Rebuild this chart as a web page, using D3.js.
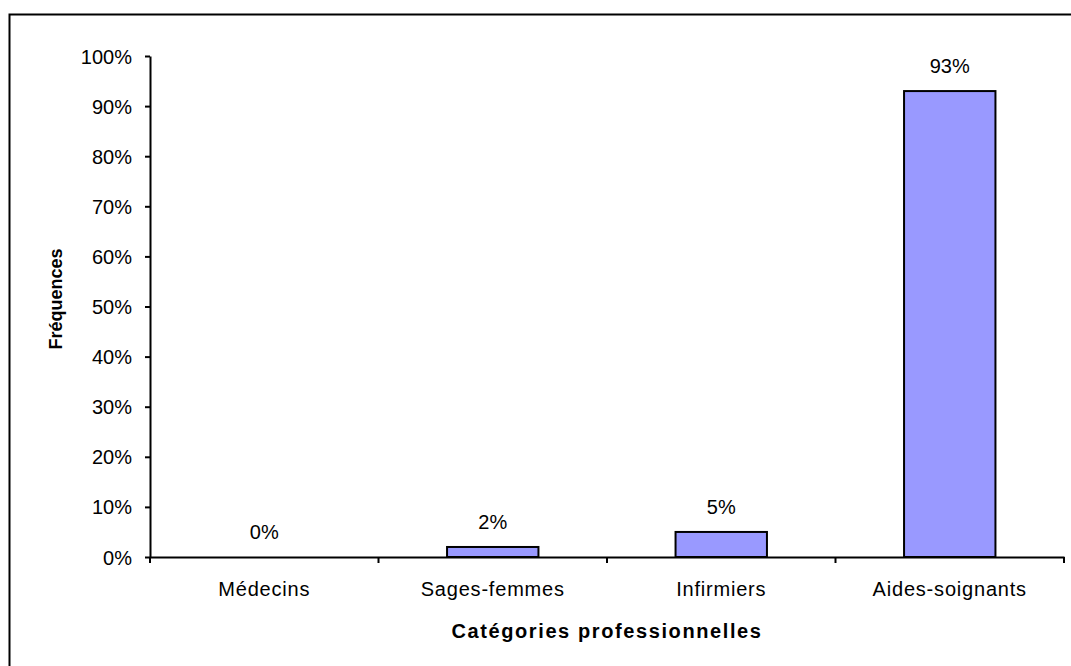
<!DOCTYPE html>
<html><head><meta charset="utf-8">
<script src="https://cdn.jsdelivr.net/npm/d3@7"></script>
<style>body{margin:0;background:#fff}svg{display:block}text{font-family:"Liberation Sans",Arial,sans-serif}</style>
</head><body>
<svg id="c" width="1071" height="666"></svg>
<script>
const categories = ["Médecins", "Sages-femmes", "Infirmiers", "Aides-soignants"];
const values = [0, 2, 5, 93];
const valueLabels = ["0%", "2%", "5%", "93%"];
const yTicks = [0, 10, 20, 30, 40, 50, 60, 70, 80, 90, 100];

const svg = d3.select("#c");
svg.append("rect").attr("x", 9.5).attr("y", 14.5).attr("width", 1080).attr("height", 700)
  .attr("fill", "none").attr("stroke", "#000").attr("stroke-width", 2);

const mLeft = 150, mRight = 1064, mTop = 56, mBottom = 557;
const FF = "Liberation Sans, Arial, sans-serif";
const x = d3.scaleBand().domain(categories).range([mLeft, mRight]).paddingInner(0.6).paddingOuter(0.3);
const xb = d3.scaleBand().domain(categories).range([mLeft, mRight]);
const y = d3.scaleLinear().domain([0, 100]).range([mBottom, mTop]);

// bars
svg.selectAll("rect.bar").data(values).join("rect").attr("class", "bar")
  .attr("x", (d, i) => x(categories[i]))
  .attr("width", x.bandwidth())
  .attr("y", d => y(d))
  .attr("height", d => y(0) - y(d))
  .attr("fill", "#9999ff").attr("stroke", "#000").attr("stroke-width", 2);

// value labels
svg.selectAll("text.vl").data(values).join("text").attr("class", "vl")
  .attr("x", (d, i) => xb(categories[i]) + xb.bandwidth() / 2)
  .attr("y", d => y(d) - 18)
  .attr("text-anchor", "middle").style("font-size", "20px").style("font-family", FF).attr("fill", "#000")
  .text((d, i) => valueLabels[i]);

// y axis
const yAxis = d3.axisLeft(y).tickValues(yTicks).tickFormat(d => d + "%").tickSize(5).tickSizeOuter(0);
const gy = svg.append("g").attr("transform", `translate(${mLeft},0)`).call(yAxis);
gy.select(".domain").attr("stroke", "#000").attr("stroke-width", 2);
gy.selectAll(".tick line").attr("stroke", "#000").attr("stroke-width", 2);
gy.selectAll(".tick text").style("font-size", "20px").attr("fill", "#000").attr("x", -18)
  .attr("dy", "0.35em").style("font-family", FF);

// x axis
const xAxis = d3.axisBottom(xb).tickSize(0).tickSizeOuter(0);
const gx = svg.append("g").attr("transform", `translate(0,${mBottom})`).call(xAxis);
gx.select(".domain").attr("stroke", "#000").attr("stroke-width", 2);
gx.selectAll(".tick text").style("font-size", "20px").attr("fill", "#000").attr("dy", 0).attr("y", 39)
  .attr("letter-spacing", 0.8).style("font-family", FF);
// category separator ticks
const sepTicks = categories.map(c => xb(c)).concat([mRight]);
gx.selectAll("line.sep").data(sepTicks).join("line").attr("class", "sep")
  .attr("x1", d => d).attr("x2", d => d).attr("y1", 0).attr("y2", 6)
  .attr("stroke", "#000").attr("stroke-width", 2);

// axis titles
svg.append("text").attr("x", (mLeft + mRight) / 2).attr("y", 638).attr("text-anchor", "middle")
  .style("font-size", "20px").style("font-family", FF).attr("font-weight", "bold").attr("letter-spacing", 1.6)
  .text("Catégories professionnelles");
svg.append("text").attr("transform", `translate(62,${299}) rotate(-90)`).attr("text-anchor", "middle")
  .style("font-size", "18px").style("font-family", FF).attr("font-weight", "bold").text("Fréquences");
</script>
</body></html>
